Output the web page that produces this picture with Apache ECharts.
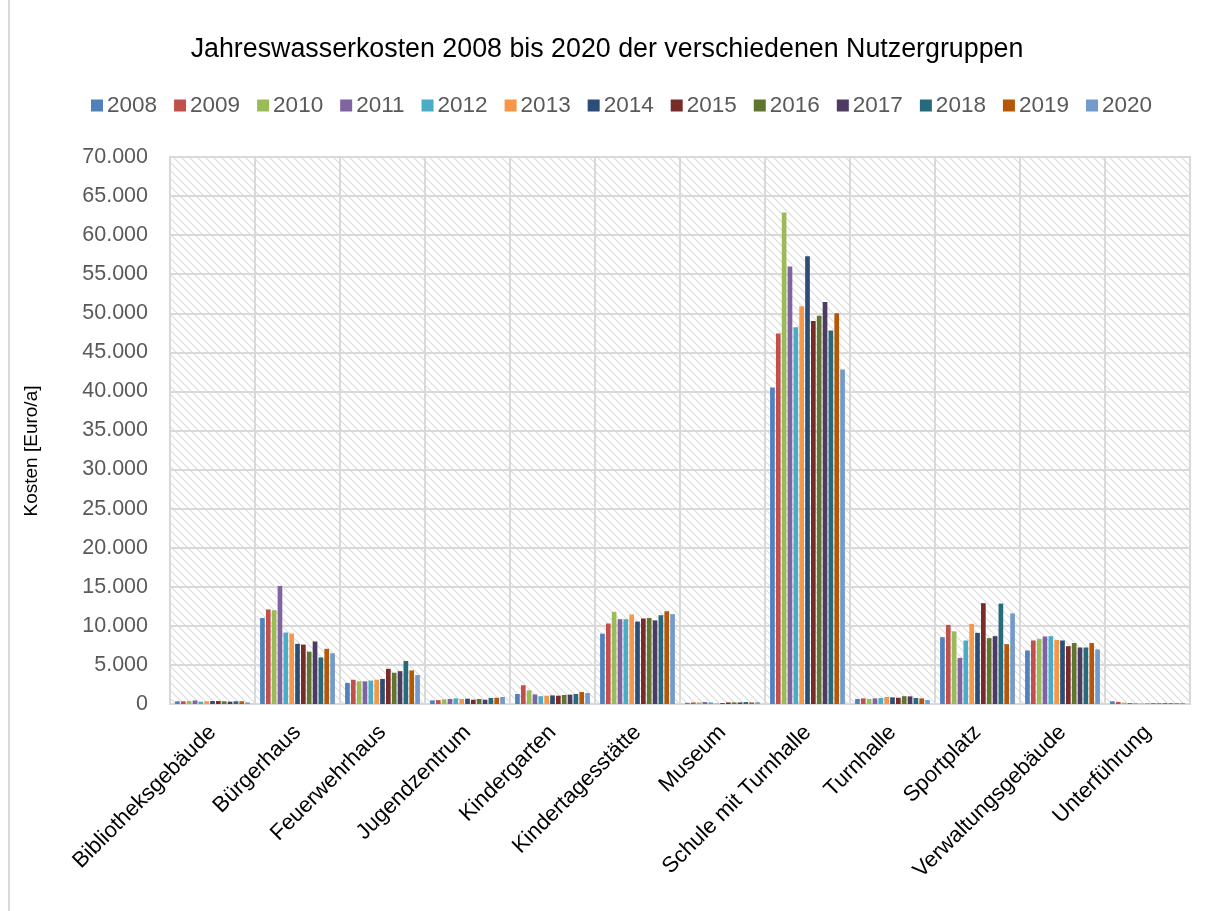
<!DOCTYPE html>
<html>
<head>
<meta charset="utf-8">
<script src="https://cdn.jsdelivr.net/npm/echarts@6/dist/echarts.min.js"></script>
<style>
html,body{margin:0;padding:0;background:#fff;}
#frame{position:absolute;left:8px;top:0;width:2px;height:911px;background:#d9d9d9;}
#chart{position:absolute;left:0;top:0;width:1214px;height:911px;}
</style>
</head>
<body>
<div id="frame"></div>
<div id="chart"></div>
<script>
const categories = ['Bibliotheksgebäude','Bürgerhaus','Feuerwehrhaus','Jugendzentrum','Kindergarten','Kindertagesstätte','Museum','Schule mit Turnhalle','Turnhalle','Sportplatz','Verwaltungsgebäude','Unterführung'];
const years = ['2008','2009','2010','2011','2012','2013','2014','2015','2016','2017','2018','2019','2020'];
const yTicks = [0,5000,10000,15000,20000,25000,30000,35000,40000,45000,50000,55000,60000,65000,70000];
const yAxisTitle = 'Kosten [Euro/a]';

// values per year, in order of categories
const v2008 = [350, 11000, 2700, 470, 1280, 9000, 150, 40500, 640, 8550, 6850, 350];
const v2009 = [350, 12100, 3100, 500, 2400, 10300, 200, 47400, 720, 10130, 8130, 260];
const v2010 = [380, 12000, 2900, 600, 1750, 11800, 200, 62900, 640, 9300, 8340, 170];
const v2011 = [450, 15100, 2900, 640, 1230, 10850, 250, 56000, 720, 5900, 8640, 130];
const v2012 = [300, 9150, 3000, 720, 1000, 10850, 200, 48200, 770, 8130, 8680, 100];
const v2013 = [350, 9000, 3100, 640, 1060, 11450, 80, 50900, 900, 10260, 8200, 60];
const v2014 = [380, 7700, 3200, 680, 1100, 10550, 120, 57300, 850, 9100, 8130, 50];
const v2015 = [380, 7600, 4500, 550, 1060, 10940, 200, 49000, 800, 12900, 7400, 80];
const v2016 = [350, 6700, 4000, 640, 1150, 11000, 200, 49700, 1000, 8430, 7800, 90];
const v2017 = [300, 8000, 4200, 550, 1200, 10700, 200, 51450, 980, 8680, 7230, 90];
const v2018 = [350, 5960, 5500, 770, 1280, 11360, 250, 47800, 770, 12850, 7230, 90];
const v2019 = [350, 7060, 4300, 800, 1530, 11870, 200, 50000, 720, 7660, 7800, 90];
const v2020 = [200, 6500, 3700, 900, 1400, 11500, 220, 42800, 500, 11600, 6980, 120];

const seriesValues = [v2008,v2009,v2010,v2011,v2012,v2013,v2014,v2015,v2016,v2017,v2018,v2019,v2020];
const colors = ['#4F81BD','#C0504D','#9BBB59','#8064A2','#4BACC6','#F79646','#2C4D75','#772C2A','#5F7530','#4D3B62','#276A7C','#B65708','#729ACA'];

// hatch pattern for plot background
const pc = document.createElement('canvas');
pc.width = 8; pc.height = 8;
const g = pc.getContext('2d');
g.fillStyle = '#ffffff'; g.fillRect(0,0,8,8);
g.strokeStyle = '#dcdcdc'; g.lineWidth = 1.2;
g.beginPath();
g.moveTo(0,0); g.lineTo(8,8);
g.moveTo(-4,4); g.lineTo(4,12);
g.moveTo(4,-4); g.lineTo(12,4);
g.stroke();

const FONT = 'Liberation Sans, Arial, sans-serif';
const chart = echarts.init(document.getElementById('chart'), null, {renderer:'canvas'});
const fmt = v => v === 0 ? '0' : String(v).replace(/\B(?=(\d{3})+(?!\d))/g, '.');

chart.setOption({
  animation: false,
  color: colors,
  title: {
    text: 'Jahreswasserkosten 2008 bis 2020 der verschiedenen Nutzergruppen',
    left: 'center', top: 31,
    textStyle: {fontFamily: FONT, fontSize: 26.8, fontWeight: 'normal', color: '#000'}
  },
  legend: {
    data: years,
    top: 89, left: 86,
    itemWidth: 12, itemHeight: 12, itemGap: 17,
    icon: 'rect',
    textStyle: {fontFamily: FONT, fontSize: 22.5, color: '#595959', padding: [0,0,0,-1]}
  },
  grid: {
    left: 170, right: 24, top: 157, bottom: 207,
    show: true,
    backgroundColor: {image: pc, repeat: 'repeat'},
    borderColor: '#d9d9d9', borderWidth: 2
  },
  xAxis: {
    type: 'category',
    data: categories,
    axisLine: {lineStyle: {color: '#d9d9d9', width: 2}},
    axisTick: {show: false},
    splitLine: {show: true, lineStyle: {color: '#d9d9d9', width: 2}},
    axisLabel: {
      interval: 0, rotate: 45, margin: 25,
      fontFamily: FONT, fontSize: 22, color: '#000'
    }
  },
  yAxis: {
    type: 'value',
    min: 0, max: 70000, interval: 5000,
    axisLine: {show: false},
    axisTick: {show: false},
    splitLine: {lineStyle: {color: '#d9d9d9', width: 2}},
    axisLabel: {
      margin: 22,
      fontFamily: FONT, fontSize: 21.5, color: '#595959',
      formatter: v => yTicks.includes(v) ? fmt(v) : ''
    }
  },
  series: years.map((y, i) => ({
    name: y,
    type: 'bar',
    data: seriesValues[i],
    barGap: '25%',
    barCategoryGap: '12%',
    itemStyle: {color: colors[i]}
  })),
  graphic: [{
    type: 'text',
    x: 32, y: 451,
    rotation: Math.PI / 2,
    style: {
      text: yAxisTitle,
      fontFamily: FONT, fontSize: 19, fill: '#000',
      align: 'center', verticalAlign: 'middle'
    }
  }]
});
</script>
</body>
</html>
